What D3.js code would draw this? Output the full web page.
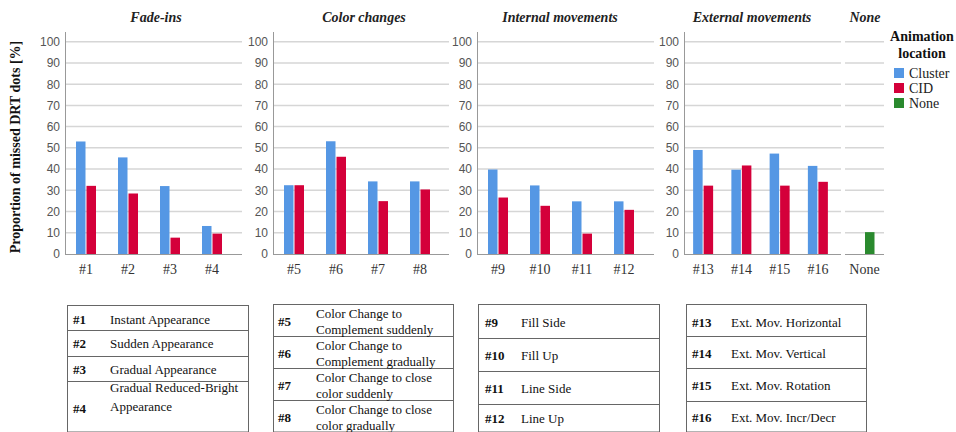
<!DOCTYPE html>
<html>
<head>
<meta charset="utf-8">
<script src="https://cdn.jsdelivr.net/npm/d3@7"></script>
<style>
  body { margin: 0; background: #fff; }
  svg { display: block; }
</style>
</head>
<body>
<div id="chart-area"></div>
<script>

// data
const groupTitles = ['Fade-ins', 'Color changes', 'Internal movements', 'External movements', 'None'];
const categories = [
  ['#1', '#2', '#3', '#4'],
  ['#5', '#6', '#7', '#8'],
  ['#9', '#10', '#11', '#12'],
  ['#13', '#14', '#15', '#16'],
  ['None']
];
const clusterValues = [53, 45.5, 32, 13.2, 32.4, 53.1, 34.2, 34.2, 39.8, 32.3, 24.8, 24.8, 49, 39.7, 47.3, 41.5];
const cidValues = [32.1, 28.5, 7.7, 9.6, 32.4, 45.8, 24.9, 30.4, 26.6, 22.7, 9.6, 20.8, 32.2, 41.7, 32.2, 34];
const noneValues = [10.3];
const yTicks = [0, 10, 20, 30, 40, 50, 60, 70, 80, 90, 100];
const seriesNames = ['Cluster', 'CID', 'None'];
const seriesColors = ['#5597e4', '#d4003a', '#2a8a2e'];

const tableKeys = [
  ['#1', '#2', '#3', '#4'],
  ['#5', '#6', '#7', '#8'],
  ['#9', '#10', '#11', '#12'],
  ['#13', '#14', '#15', '#16']
];
const tableTexts = [
  [['Instant Appearance'], ['Sudden Appearance'], ['Gradual Appearance'], ['Gradual Reduced-Bright', 'Appearance']],
  [['Color Change to', 'Complement suddenly'], ['Color Change to', 'Complement gradually'],
   ['Color Change to close', 'color suddenly'], ['Color Change to close', 'color gradually']],
  [['Fill Side'], ['Fill Up'], ['Line Side'], ['Line Up']],
  [['Ext. Mov. Horizontal'], ['Ext. Mov. Vertical'], ['Ext. Mov. Rotation'], ['Ext. Mov. Incr/Decr']]
];

// layout
const width = 956;
const height = 432;
const serif = '"Liberation Serif", "Times New Roman", serif';
const sans = '"Liberation Sans", Arial, sans-serif';

const panelLeft = [65, 273, 477, 684, 845];
const panelRight = [242, 449, 654, 841, 884];
const bandRight = [233, 441, 645, 837, 884];
const titleX = [156, 364, 560, 752, 865];

const svg = d3.select('#chart-area').append('svg')
  .attr('width', width)
  .attr('height', height);

const y = d3.scaleLinear()
  .domain([0, 100])
  .range([254, 41.7]);

const inner = d3.scaleBand()
  .domain([0, 1])
  .range([-10.5, 10.5]);

let idx = 0;
categories.forEach((cats, p) => {
  const g = svg.append('g');
  const x = d3.scaleBand()
    .domain(cats)
    .range([panelLeft[p], bandRight[p]]);

  // gridlines
  g.selectAll('.grid')
    .data(yTicks.filter(d => d > 0))
    .enter().append('line')
      .attr('x1', panelLeft[p])
      .attr('x2', panelRight[p])
      .attr('y1', d => y(d))
      .attr('y2', d => y(d))
      .attr('stroke', '#d6d6d6')
      .attr('stroke-width', 1.5);

  if (p < 4) {
    const axisY = d3.axisLeft(y)
      .tickValues(yTicks)
      .tickSize(0)
      .tickPadding(5);
    const ax = g.append('g')
      .attr('transform', `translate(${panelLeft[p]}, 0)`)
      .call(axisY);
    ax.select('.domain').remove();
    ax.selectAll('text')
      .attr('font-family', sans)
      .attr('font-size', '12px')
      .attr('fill', '#555');
    g.append('line')
      .attr('x1', panelLeft[p] + 0.5)
      .attr('x2', panelLeft[p] + 0.5)
      .attr('y1', 32)
      .attr('y2', 254)
      .attr('stroke', '#999');
  }

  g.append('line')
    .attr('x1', panelLeft[p])
    .attr('x2', panelRight[p])
    .attr('y1', 254.5)
    .attr('y2', 254.5)
    .attr('stroke', '#999');

  // bars
  const rows = [];
  cats.forEach(c => {
    if (p < 4) {
      rows.push({ cat: c, slot: 0, s: 0, v: clusterValues[idx] });
      rows.push({ cat: c, slot: 1, s: 1, v: cidValues[idx] });
      idx++;
    } else {
      rows.push({ cat: c, slot: 1, s: 2, v: noneValues[0] });
    }
  });

  g.selectAll('rect')
    .data(rows)
    .enter().append('rect')
      .attr('x', d => x(d.cat) + x.bandwidth() / 2 + inner(d.slot) + 0.5)
      .attr('y', d => y(d.v))
      .attr('width', inner.bandwidth() - 1)
      .attr('height', d => y(0) - y(d.v))
      .attr('fill', d => seriesColors[d.s]);

  // category labels
  g.selectAll('.cat')
    .data(cats)
    .enter().append('text')
      .attr('x', d => x(d) + x.bandwidth() / 2)
      .attr('y', 274)
      .attr('text-anchor', 'middle')
      .attr('font-family', serif)
      .attr('font-size', '14px')
      .attr('fill', '#333')
      .text(d => d);

  svg.append('text')
    .attr('x', titleX[p])
    .attr('y', 22)
    .attr('text-anchor', 'middle')
    .attr('font-family', serif)
    .attr('font-size', '14px')
    .attr('font-weight', 'bold')
    .attr('font-style', 'italic')
    .attr('fill', '#222')
    .text(groupTitles[p]);
});

// y axis label
svg.append('text')
  .attr('transform', 'translate(20, 147) rotate(-90)')
  .attr('text-anchor', 'middle')
  .attr('font-family', serif)
  .attr('font-size', '14px')
  .attr('font-weight', 'bold')
  .attr('fill', '#111')
  .text('Proportion of missed DRT dots [%]');

// legend
const legend = svg.append('g');
legend.selectAll('.lt')
  .data(['Animation', 'location'])
  .enter().append('text')
    .attr('x', 922)
    .attr('y', (d, i) => 41 + i * 17)
    .attr('text-anchor', 'middle')
    .attr('font-family', serif)
    .attr('font-size', '14px')
    .attr('font-weight', 'bold')
    .attr('fill', '#111')
    .text(d => d);
legend.selectAll('rect')
  .data(seriesNames)
  .enter().append('rect')
    .attr('x', 894)
    .attr('y', (d, i) => 68 + i * 15)
    .attr('width', 10)
    .attr('height', 10)
    .attr('fill', (d, i) => seriesColors[i]);
legend.selectAll('.li')
  .data(seriesNames)
  .enter().append('text')
    .attr('x', 909)
    .attr('y', (d, i) => 77.5 + i * 15)
    .attr('font-family', serif)
    .attr('font-size', '14px')
    .attr('fill', '#222')
    .text(d => d);

// description tables
const tables = [
  { x: 67, w: 181, keyX: 73, textX: 110, rows: [305, 330, 356, 381, 431.5], lineY: [[319], [343], [369], [387, 406]], keyY: [319, 343, 369, 408] },
  { x: 273, w: 180, keyX: 278, textX: 316, rows: [304, 336, 368, 400, 431.5], lineY: [[313, 329], [345, 361], [377, 393], [409, 425]], keyY: [321, 353, 385, 417] },
  { x: 478, w: 181, keyX: 485, textX: 521, rows: [304, 338, 371, 404, 431.5], lineY: [[322], [355], [388], [418]], keyY: [322, 355, 388, 418] },
  { x: 686, w: 180, keyX: 692, textX: 731, rows: [304, 336, 368, 401, 431.5], lineY: [[322], [353], [385], [417]], keyY: [322, 353, 385, 417] }
];

tables.forEach((t, ti) => {
  const tg = svg.append('g');
  tg.append('rect')
    .attr('x', t.x + 0.5)
    .attr('y', t.rows[0] + 0.5)
    .attr('width', t.w)
    .attr('height', t.rows[4] - t.rows[0])
    .attr('fill', 'none')
    .attr('stroke', '#666');
  tg.selectAll('.rl')
    .data(t.rows.slice(1, 4))
    .enter().append('line')
      .attr('x1', t.x)
      .attr('x2', t.x + t.w)
      .attr('y1', d => d + 0.5)
      .attr('y2', d => d + 0.5)
      .attr('stroke', '#666');
  tableKeys[ti].forEach((k, r) => {
    tg.append('text')
      .attr('x', t.keyX)
      .attr('y', t.keyY[r])
      .attr('dy', '0.35em')
      .attr('font-family', serif)
      .attr('font-size', '13px')
      .attr('font-weight', 'bold')
      .attr('fill', '#111')
      .text(k);
    tableTexts[ti][r].forEach((line, li) => {
      tg.append('text')
        .attr('x', t.textX)
        .attr('y', t.lineY[r][li])
        .attr('dy', '0.35em')
        .attr('font-family', serif)
        .attr('font-size', '13px')
        .attr('fill', '#111')
        .text(line);
    });
  });
});

</script>
</body>
</html>
